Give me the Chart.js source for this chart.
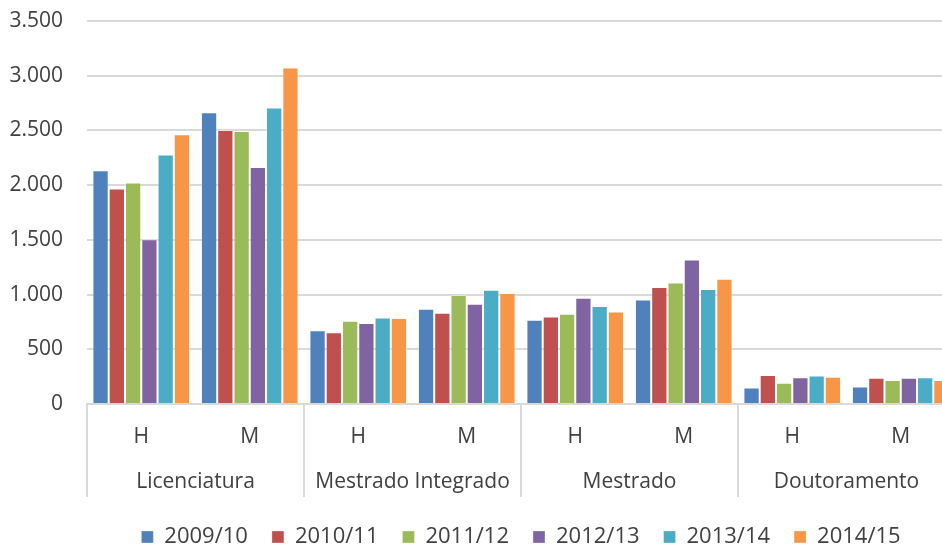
<!DOCTYPE html>
<html>
<head>
<meta charset="utf-8">
<script src="https://cdn.jsdelivr.net/npm/chart.js@4/dist/chart.umd.min.js"></script>
<style>
  html, body { margin: 0; padding: 0; background: #fff; overflow: hidden; }
  .chart-wrapper { width: 955px; height: 558px; }
</style>
</head>
<body>
<div class="chart-wrapper"><canvas id="students-chart"></canvas></div>
<script>
// categories: sex within each degree type
const sexLabels = ['H', 'M', 'H', 'M', 'H', 'M', 'H', 'M'];
const degreeLabels = ['Licenciatura', 'Mestrado Integrado', 'Mestrado', 'Doutoramento'];
const yearLabels = ['2009/10', '2010/11', '2011/12', '2012/13', '2013/14', '2014/15'];

// one array per school year, in the order of sexLabels
const values0910 = [2135, 2665, 675, 870, 770, 955, 150, 160];
const values1011 = [1970, 2505, 655, 835, 800, 1070, 265, 240];
const values1112 = [2025, 2495, 760, 995, 825, 1110, 195, 220];
const values1213 = [1505, 2165, 740, 915, 970, 1320, 245, 240];
const values1314 = [2280, 2710, 790, 1045, 895, 1050, 260, 245];
const values1415 = [2465, 3075, 785, 1015, 845, 1145, 250, 220];

const yearColors = ['#4F81BD', '#C0504D', '#9BBB59', '#8064A2', '#4BACC6', '#F79646'];
const allValues = [values0910, values1011, values1112, values1213, values1314, values1415];

const textColor = '#404040';
const gridColor = '#d9d9d9';
const fontFamily = "'Open Sans', sans-serif";

Chart.defaults.font.family = fontFamily;
Chart.defaults.color = textColor;

// thousands separator with a dot: 3500 -> 3.500
function formatThousands(v) {
    return String(v).replace(/\B(?=(\d{3})+(?!\d))/g, '.');
}

// degree names under each H/M pair, with separators between the pairs
const degreeGroups = {
    id: 'degreeGroups',
    afterDraw(chart) {
        const ctx = chart.ctx;
        const area = chart.chartArea;
        const x = chart.scales.x;
        const step = (area.right - area.left) / sexLabels.length;
        const lineBottom = 497;

        ctx.save();
        ctx.strokeStyle = gridColor;
        ctx.lineWidth = 2;
        for (let i = 0; i <= degreeLabels.length; i++) {
            const px = Math.round(area.left + i * 2 * step);
            ctx.beginPath();
            ctx.moveTo(px, area.bottom);
            ctx.lineTo(px, lineBottom);
            ctx.stroke();
        }

        ctx.fillStyle = textColor;
        ctx.font = '21px ' + fontFamily;
        ctx.textAlign = 'center';
        ctx.textBaseline = 'middle';
        degreeLabels.forEach((name, i) => {
            const cx = (x.getPixelForValue(i * 2) + x.getPixelForValue(i * 2 + 1)) / 2;
            ctx.fillText(name, cx, 482);
        });
        ctx.restore();
    }
};

const studentsData = {
    labels: sexLabels,
    datasets: yearLabels.map((year, i) => ({
        label: year,
        data: allValues[i],
        backgroundColor: yearColors[i],
        borderColor: 'rgba(255,255,255,0.3)',
        borderWidth: 1,
        categoryPercentage: 0.9,
        barPercentage: 1.0
    }))
};

const studentsOptions = {
    responsive: true,
    maintainAspectRatio: false,
    animation: { duration: 0 },
    layout: {
        padding: { top: 21, right: 0, bottom: 0, left: 0 }
    },
    scales: {
        y: {
            min: 0,
            max: 3500,
            ticks: {
                stepSize: 500,
                padding: 24,
                font: { size: 21 },
                color: textColor,
                callback: (v) => formatThousands(v)
            },
            grid: {
                color: gridColor,
                lineWidth: 2,
                drawTicks: false
            },
            border: { display: false },
            afterFit(scale) {
                scale.width = 87;
                scale.paddingTop = 0;
                scale.paddingBottom = 0;
            }
        },
        x: {
            ticks: {
                padding: 12,
                font: { size: 21 },
                color: textColor
            },
            grid: { display: false },
            border: { display: true, color: gridColor, width: 2 },
            afterFit(scale) { scale.height = 98; }
        }
    },
    plugins: {
        legend: {
            position: 'bottom',
            fullSize: false,
            labels: {
                boxWidth: 12,
                boxHeight: 12,
                padding: 24,
                font: { size: 22 },
                color: textColor
            }
        },
        tooltip: { enabled: false }
    }
};

const studentsChart = new Chart(document.getElementById('students-chart'), {
    type: 'bar',
    data: studentsData,
    options: studentsOptions,
    plugins: [degreeGroups]
});
</script>
</body>
</html>
